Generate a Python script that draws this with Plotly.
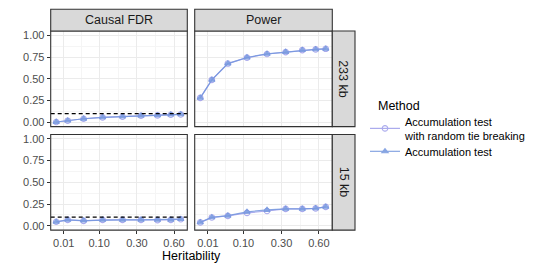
import numpy as np
import plotly.graph_objects as go

# ---------------- data ----------------
heritability = [0.0029, 0.0154, 0.049, 0.114, 0.211, 0.328, 0.454, 0.570, 0.666]
x_tick_values = [0.01, 0.10, 0.30, 0.60]
x_tick_labels = ["0.01", "0.10", "0.30", "0.60"]
y_tick_values = [0.0, 0.25, 0.50, 0.75, 1.00]
y_tick_labels = ["0.00", "0.25", "0.50", "0.75", "1.00"]
metrics = ["Causal FDR", "Power"]
windows = ["233 kb", "15 kb"]
methods = ["Accumulation test<br>with random tie breaking", "Accumulation test"]
target_fdr = 0.1

fdr_233_random = [0.003, 0.018, 0.040, 0.056, 0.063, 0.075, 0.079, 0.086, 0.090]
fdr_233_accum = [0.003, 0.018, 0.040, 0.056, 0.064, 0.075, 0.080, 0.087, 0.091]
power_233_random = [0.280, 0.487, 0.675, 0.743, 0.785, 0.807, 0.830, 0.838, 0.845]
power_233_accum = [0.280, 0.487, 0.675, 0.745, 0.787, 0.808, 0.830, 0.838, 0.845]
fdr_15_random = [0.046, 0.068, 0.057, 0.068, 0.068, 0.068, 0.065, 0.068, 0.076]
fdr_15_accum = [0.046, 0.068, 0.060, 0.068, 0.068, 0.068, 0.068, 0.068, 0.076]
power_15_random = [0.039, 0.096, 0.114, 0.148, 0.170, 0.194, 0.194, 0.200, 0.217]
power_15_accum = [0.039, 0.096, 0.116, 0.160, 0.182, 0.194, 0.194, 0.200, 0.217]

# ---------------- style ----------------
FONT = "Liberation Sans, Arial, sans-serif"
COL_RANDOM = "#9D9DEB"
COL_ACCUM = "#7396DE"
BORDER = "#333333"
STRIP_FILL = "#D9D9D9"
GRID_MAJOR = "#EBEBEB"
GRID_MINOR = "#F5F5F5"

W, H = 540, 270
def px_x(p): return p / W
def px_y(p): return 1 - p / H

col_dom = [[px_x(50.7), px_x(187.3)], [px_x(194.7), px_x(332.3)]]
row_dom = [[px_y(126.0), px_y(29.3)], [px_y(230.7), px_y(134.0)]]

sqrt_ticks = list(np.sqrt(x_tick_values))
minor_x = [(sqrt_ticks[i] + sqrt_ticks[i + 1]) / 2 for i in range(len(sqrt_ticks) - 1)]
x_range = [0.020, 0.856]
y_range = [-0.05, 1.05]

panels = {
    (0, 0): [fdr_233_random, fdr_233_accum],
    (0, 1): [power_233_random, power_233_accum],
    (1, 0): [fdr_15_random, fdr_15_accum],
    (1, 1): [power_15_random, power_15_accum],
}

fig = go.Figure()
hx = np.sqrt(heritability)

layout_axes = {}
for (r, c), series in panels.items():
    idx = r * 2 + c + 1
    xa = "x" if idx == 1 else f"x{idx}"
    ya = "y" if idx == 1 else f"y{idx}"
    xkey = "xaxis" if idx == 1 else f"xaxis{idx}"
    ykey = "yaxis" if idx == 1 else f"yaxis{idx}"
    for m, (vals, col, sym) in enumerate(zip(series, [COL_RANDOM, COL_ACCUM],
                                              ["circle-open", "triangle-up"])):
        fig.add_trace(go.Scatter(
            x=hx, y=vals, xaxis=xa, yaxis=ya, mode="lines+markers",
            name=methods[m], legendgroup=methods[m],
            legend="legend" if m == 0 else "legend2",
            showlegend=(idx == 1),
            line=dict(color=col, width=1.2),
            marker=dict(symbol=sym, size=5.5, color=col,
                        line=dict(color=col, width=1.1)),
            opacity=0.85,
        ))
    layout_axes[xkey] = dict(
        domain=col_dom[c], range=x_range, anchor=ya,
        tickvals=sqrt_ticks, ticktext=x_tick_labels,
        showticklabels=(r == 1), ticks="outside" if r == 1 else "",
        ticklen=3, tickwidth=1, tickcolor=BORDER,
        showgrid=True, gridcolor=GRID_MAJOR, gridwidth=1,
        minor=dict(tickvals=minor_x, showgrid=True, gridcolor=GRID_MINOR, gridwidth=0.6, ticklen=0),
        zeroline=False, showline=False,
        tickfont=dict(family=FONT, size=11, color="#4D4D4D"),
    )
    layout_axes[ykey] = dict(
        domain=row_dom[r], range=y_range, anchor=xa,
        tickvals=y_tick_values, ticktext=y_tick_labels,
        showticklabels=(c == 0), ticks="outside" if c == 0 else "",
        ticklen=3, tickwidth=1, tickcolor=BORDER,
        showgrid=True, gridcolor=GRID_MAJOR, gridwidth=1,
        minor=dict(tickvals=[0.125, 0.375, 0.625, 0.875], showgrid=True,
                   gridcolor=GRID_MINOR, gridwidth=0.6, ticklen=0),
        zeroline=False, showline=False,
        tickfont=dict(family=FONT, size=11, color="#4D4D4D"),
    )

shapes = []
annotations = []
for (r, c) in panels:
    idx = r * 2 + c + 1
    xa = "x" if idx == 1 else f"x{idx}"
    ya = "y" if idx == 1 else f"y{idx}"
    if c == 0:
        shapes.append(dict(type="line", xref=f"{xa} domain", yref=ya,
                           x0=0, x1=1, y0=target_fdr, y1=target_fdr,
                           line=dict(color="black", width=1.3, dash="4px,3px"), layer="above"))
    shapes.append(dict(type="rect", xref=f"{xa} domain", yref=f"{ya} domain",
                       x0=0, x1=1, y0=0, y1=1, line=dict(color=BORDER, width=1.1),
                       fillcolor="rgba(0,0,0,0)", layer="above"))

strip_top = [px_y(29.3), px_y(7.3)]
for c, label in enumerate(metrics):
    shapes.append(dict(type="rect", xref="paper", yref="paper",
                       x0=col_dom[c][0], x1=col_dom[c][1], y0=strip_top[0], y1=strip_top[1],
                       fillcolor=STRIP_FILL, line=dict(color=BORDER, width=1.1)))
    annotations.append(dict(text=label, xref="paper", yref="paper",
                            x=(col_dom[c][0] + col_dom[c][1]) / 2, y=sum(strip_top) / 2,
                            showarrow=False, xanchor="center", yanchor="middle",
                            font=dict(family=FONT, size=12.5, color="#1A1A1A")))
strip_right = [px_x(332.3), px_x(355.0)]
for r, label in enumerate(windows):
    shapes.append(dict(type="rect", xref="paper", yref="paper",
                       x0=strip_right[0], x1=strip_right[1], y0=row_dom[r][0], y1=row_dom[r][1],
                       fillcolor=STRIP_FILL, line=dict(color=BORDER, width=1.1)))
    annotations.append(dict(text=label, xref="paper", yref="paper",
                            x=sum(strip_right) / 2, y=(row_dom[r][0] + row_dom[r][1]) / 2,
                            showarrow=False, xanchor="center", yanchor="middle", textangle=90,
                            font=dict(family=FONT, size=12.5, color="#1A1A1A")))
annotations.append(dict(text="Heritability", xref="paper", yref="paper",
                        x=(col_dom[0][0] + col_dom[1][1]) / 2, y=px_y(257),
                        showarrow=False, xanchor="center", yanchor="middle",
                        font=dict(family=FONT, size=12.5, color="black")))
annotations.append(dict(text="Method", xref="paper", yref="paper",
                        x=px_x(375.5), y=px_y(105), showarrow=False,
                        xanchor="left", yanchor="middle",
                        font=dict(family=FONT, size=12.5, color="black")))

legend_common = dict(xanchor="left", yanchor="middle",
                     font=dict(family=FONT, size=11, color="black"),
                     itemwidth=30, bgcolor="rgba(0,0,0,0)")

fig.update_layout(
    width=W, height=H, margin=dict(l=0, r=0, t=0, b=0),
    paper_bgcolor="white", plot_bgcolor="white",
    font=dict(family=FONT, color="black"),
    shapes=shapes, annotations=annotations,
    legend=dict(x=px_x(365), y=px_y(128), **legend_common),
    legend2=dict(x=px_x(365), y=px_y(151), **legend_common),
    **layout_axes,
)

fig.write_html("out.html", config={"displayModeBar": False},
               post_script="document.body.style.margin='0px';")
